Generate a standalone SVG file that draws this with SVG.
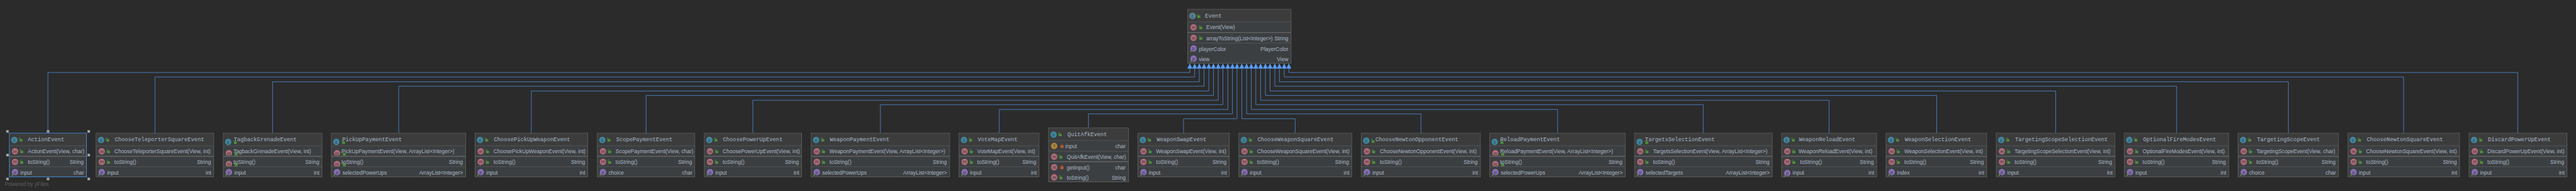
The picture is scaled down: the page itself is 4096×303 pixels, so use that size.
<svg xmlns="http://www.w3.org/2000/svg" width="4096" height="303" viewBox="0 0 4096 303">
<style>
text{font-family:"Liberation Sans",Arial,sans-serif}
.b{fill:#3C3F41;stroke:#5F5F5F;stroke-width:1.6}
.sel{stroke:#4A8FDD}
.h{fill:#3C3C3C}
.s{stroke:#595B5D;stroke-width:1.3;fill:none}
.k{stroke:#636566;stroke-width:2.4;fill:none}
.t{font-family:"Liberation Mono","Courier New",monospace;font-size:15px;fill:#A9B7C6}
.r{font-size:14.5px;fill:#A9B7C6}
.e{text-anchor:end}
.i{font-size:12.5px;text-anchor:middle;fill:#33393D}
.c{fill:none;stroke:#589DF6;stroke-width:1.2}
.hd{fill:#A8A8A8;stroke:#6A6A6A;stroke-width:.6}
.y{font-size:14.6px;fill:#5E5E5E}
</style>
<defs>
<marker id="tri" markerUnits="userSpaceOnUse" viewBox="0 0 14 14" markerWidth="14" markerHeight="14" refX="0" refY="7" orient="auto"><path d="M0 7L13.6 0V14Z" fill="#589DF6"/></marker>
<clipPath id="cc"><rect x="-9" y="-9" width="18" height="15"/></clipPath>
<g id="lk"><rect x="2.5" y="3.7" width="8" height="6.5" fill="#4F8F3C"/><path d="M1.2 4.5V2.6a2.4 2.4 0 0 1 4.8 0V4" fill="none" stroke="#4F8F3C" stroke-width="1.2"/></g>
<g id="lr"><rect x="1.5" y="3.7" width="8" height="6.5" fill="#C75B2A"/><path d="M3 4.5V2.6a2.4 2.4 0 0 1 4.8 0V4.5" fill="none" stroke="#C75B2A" stroke-width="1.2"/></g>
<g id="c"><circle r="8.7" fill="#40859E"/><text class="i" y="4.2">c</text></g>
<g id="ca"><circle r="8.7" fill="#7F7F7F"/><ellipse rx="5.4" ry="8.7" fill="#40859E"/><text class="i" y="4.2">c</text></g>
<g id="m"><circle r="8.7" fill="#B16B77"/><text class="i" y="4.2">m</text></g>
<g id="mc" clip-path="url(#cc)"><circle r="8.7" fill="#B16B77"/><text class="i" y="4.2">m</text></g>
<g id="p"><circle r="8.7" fill="#876FB3"/><text class="i" y="4.2">p</text><circle cx="-7.6" cy="8" r="1.8" fill="#5CA63C"/></g>
<g id="f"><circle r="8.7" fill="#AF8438"/><text class="i" y="4.2">f</text></g>
<g id="tt"><use href="#c" x="13.5" y="18.7"/><use href="#lk" x="25" y="12.5"/></g>
<g id="tts"><use href="#c" x="13.5" y="23.7"/><use href="#lk" x="26.5" y="19"/></g>
<g id="tto"><use href="#c" x="13.5" y="20.4"/><use href="#lk" x="25.5" y="16"/></g>
<g id="rows"><use href="#m" x="15.3" y="49.3"/><use href="#lk" x="27" y="44"/><use href="#m" x="15.3" y="78"/><use href="#lk" x="27" y="72.7"/><use href="#p" x="15.3" y="105.7"/></g>
<g id="rowss"><use href="#mc" x="15.3" y="54.4"/><use href="#lk" x="28.5" y="50.5"/><use href="#mc" x="15.3" y="83.7"/><use href="#lk" x="28.5" y="79.5"/><use href="#p" x="15.3" y="105.7"/></g>
</defs>
<rect width="4096" height="303" fill="#2B2B2B"/>
<g transform="scale(.58615)">
<g id="selection-handles">
<rect class="hd" x="17" y="352.3" width="6.8" height="6.8"/><rect class="hd" x="127" y="352.3" width="6.8" height="6.8"/><rect class="hd" x="237.3" y="352.3" width="6.8" height="6.8"/>
<rect class="hd" x="17" y="416.3" width="6.8" height="6.8"/><rect class="hd" x="237.3" y="416.3" width="6.8" height="6.8"/>
<rect class="hd" x="17" y="481" width="6.8" height="6.8"/><rect class="hd" x="127" y="481" width="6.8" height="6.8"/><rect class="hd" x="237.3" y="481" width="6.8" height="6.8"/>
</g>
<text class="y" x="12.8" y="502.7">Powered by yFiles</text>
<g id="connectors">
<path class="c" marker-start="url(#tri)" d="M3227.7 172V196.3H130V360"/>
<path class="c" marker-start="url(#tri)" d="M3240.7 172V208.3H420.4V360"/>
<path class="c" marker-start="url(#tri)" d="M3253.3 172V221.3H739.3V360"/>
<path class="c" marker-start="url(#tri)" d="M3266.3 172V233.3H1081.6V360"/>
<path class="c" marker-start="url(#tri)" d="M3279.3 172V246.3H1441.3V360"/>
<path class="c" marker-start="url(#tri)" d="M3291.7 172V258.3H1752.6V360"/>
<path class="c" marker-start="url(#tri)" d="M3304.7 172V271.3H2042.3V360"/>
<path class="c" marker-start="url(#tri)" d="M3317.3 172V283.3H2388.3V360"/>
<path class="c" marker-start="url(#tri)" d="M3330.7 172V296.3H2710.7V360"/>
<path class="c" marker-start="url(#tri)" d="M3343.3 172V308.3H2952.6V346"/>
<path class="c" marker-start="url(#tri)" d="M3355.7 172V321.3H3210.7V360"/>
<path class="c" marker-start="url(#tri)" d="M3368.7 172V321.3H3513.3V360"/>
<path class="c" marker-start="url(#tri)" d="M3381.7 172V308.3H3854.6V360"/>
<path class="c" marker-start="url(#tri)" d="M3394.3 172V296.3H4225.5V360"/>
<path class="c" marker-start="url(#tri)" d="M3406.7 172V283.3H4620.4V360"/>
<path class="c" marker-start="url(#tri)" d="M3419.7 172V271.3H4961.7V360"/>
<path class="c" marker-start="url(#tri)" d="M3432.7 172V258.3H5253.6V360"/>
<path class="c" marker-start="url(#tri)" d="M3445.3 172V246.3H5576.5V360"/>
<path class="c" marker-start="url(#tri)" d="M3458.3 172V233.3H5904.6V360"/>
<path class="c" marker-start="url(#tri)" d="M3470.7 172V221.3H6207.7V360"/>
<path class="c" marker-start="url(#tri)" d="M3483.7 172V208.3H6520.3V360"/>
<path class="c" marker-start="url(#tri)" d="M3496.3 172V196.3H6830V360"/>
</g>
<g id="Event" transform="translate(3222,25.3)"><rect class="b" width="280.3" height="145.7"/><rect class="h" x="1" y="1" width="278.3" height="33"/><path class="s" d="M0 34H280.3M0 91.4H280.3"/><path class="k" d="M0 62.7H280.3"/>
<use href="#ca" x="13" y="18"/><use href="#lk" x="23.5" y="13"/><text class="t" x="47" y="22">Event</text>
<use href="#m" x="15.7" y="48.7"/><use href="#lk" x="29" y="43.5"/><text class="r" x="50.3" y="54">Event(View)</text>
<use href="#m" x="15.7" y="77.4"/><use href="#lk" x="29" y="72"/><text class="r" x="50.3" y="83.7">arrayToString(List&lt;Integer&gt;)</text><text class="r e" x="273" y="83.7">String</text>
<use href="#p" x="15.7" y="105.7"/><text class="r" x="30" y="112.4">playerColor</text><text class="r e" x="273" y="112.4">PlayerColor</text>
<use href="#p" x="15.7" y="133.7"/><text class="r" x="30" y="139.7">view</text><text class="r e" x="273" y="139.7">View</text></g>
<g id="ActionEvent" transform="translate(25.5,360.3)"><rect class="b sel" width="209.2" height="118.4"/><rect class="h" x="1" y="1" width="207.2" height="33"/><path class="s" d="M1 34H208M1 91H208"/><path class="k" d="M1 62.7H208"/><use href="#tt"/><use href="#rows"/>
<text class="t" x="50" y="22.4">ActionEvent</text><text class="r" x="50" y="54.7">ActionEvent(View, char)</text><text class="r" x="50" y="84">toString()</text><text class="r e" x="201.5" y="84">String</text><text class="r" x="29.6" y="113">input</text><text class="r e" x="202.5" y="113">char</text></g>
<g id="ChooseTeleporterSquareEvent" transform="translate(260.7,360.3)"><rect class="b" width="318.9" height="118.4"/><rect class="h" x="1" y="1" width="316.9" height="33"/><path class="s" d="M0 34H318.9M0 91H318.9"/><path class="k" d="M0 62.7H318.9"/><use href="#tt"/><use href="#rows"/>
<text class="t" x="50.5" y="22.4">ChooseTeleporterSquareEvent</text><text class="r" x="49.5" y="54.7">ChooseTeleporterSquareEvent(View, int)</text><text class="r" x="49.5" y="84">toString()</text><text class="r e" x="311.5" y="84">String</text><text class="r" x="29.6" y="113">input</text><text class="r e" x="312.5" y="113">int</text></g>
<g id="TagbackGrenadeEvent" transform="translate(605.6,360.3)"><rect class="b" width="267.9" height="118.4"/><rect class="h" x="1" y="1" width="265.9" height="33"/><path class="s" d="M0 34H267.9M0 91H267.9"/><path class="k" d="M0 62.7H267.9"/><use href="#tts"/><use href="#rowss"/>
<text class="t" x="28.6" y="22.4">TagbackGrenadeEvent</text><text class="r" x="27.6" y="54.7">TagbackGrenadeEvent(View, int)</text><text class="r" x="27.6" y="84">toString()</text><text class="r e" x="260.5" y="84">String</text><text class="r" x="30" y="113">input</text><text class="r e" x="261" y="113">int</text></g>
<g id="PickUpPaymentEvent" transform="translate(899,360.3)"><rect class="b" width="364" height="118.4"/><rect class="h" x="1" y="1" width="362" height="33"/><path class="s" d="M0 34H364M0 91H364"/><path class="k" d="M0 62.7H364"/><use href="#tts"/><use href="#rowss"/>
<text class="t" x="29.5" y="22.4">PickUpPaymentEvent</text><text class="r" x="27.5" y="54.7">PickUpPaymentEvent(View, ArrayList&lt;Integer&gt;)</text><text class="r" x="27.5" y="84">toString()</text><text class="r e" x="356.5" y="84">String</text><text class="r" x="30" y="113">selectedPowerUps</text><text class="r e" x="357" y="113">ArrayList&lt;Integer&gt;</text></g>
<g id="ChoosePickUpWeaponEvent" transform="translate(1288.8,360.3)"><rect class="b" width="305.6" height="118.4"/><rect class="h" x="1" y="1" width="303.6" height="33"/><path class="s" d="M0 34H305.6M0 91H305.6"/><path class="k" d="M0 62.7H305.6"/><use href="#tt"/><use href="#rows"/>
<text class="t" x="51" y="22.4">ChoosePickUpWeaponEvent</text><text class="r" x="50" y="54.7">ChoosePickUpWeaponEvent(View, int)</text><text class="r" x="50" y="84">toString()</text><text class="r e" x="298" y="84">String</text><text class="r" x="30" y="113">input</text><text class="r e" x="299" y="113">int</text></g>
<g id="ScopePaymentEvent" transform="translate(1620.4,360.3)"><rect class="b" width="264.3" height="118.4"/><rect class="h" x="1" y="1" width="262.3" height="33"/><path class="s" d="M0 34H264.3M0 91H264.3"/><path class="k" d="M0 62.7H264.3"/><use href="#tt"/><use href="#rows"/>
<text class="t" x="51" y="22.4">ScopePaymentEvent</text><text class="r" x="49.5" y="54.7">ScopePaymentEvent(View, char)</text><text class="r" x="49.5" y="84">toString()</text><text class="r e" x="257" y="84">String</text><text class="r" x="30" y="113">choice</text><text class="r e" x="258" y="113">char</text></g>
<g id="ChoosePowerUpEvent" transform="translate(1910.7,360.3)"><rect class="b" width="263.8" height="118.4"/><rect class="h" x="1" y="1" width="261.8" height="33"/><path class="s" d="M0 34H263.8M0 91H263.8"/><path class="k" d="M0 62.7H263.8"/><use href="#tt"/><use href="#rows"/>
<text class="t" x="50.5" y="22.4">ChoosePowerUpEvent</text><text class="r" x="49.5" y="54.7">ChoosePowerUpEvent(View, int)</text><text class="r" x="49.5" y="84">toString()</text><text class="r e" x="256.5" y="84">String</text><text class="r" x="29.6" y="113">input</text><text class="r e" x="257.5" y="113">int</text></g>
<g id="WeaponPaymentEvent" transform="translate(2200.5,360.3)"><rect class="b" width="375.5" height="118.4"/><rect class="h" x="1" y="1" width="373.5" height="33"/><path class="s" d="M0 34H375.5M0 91H375.5"/><path class="k" d="M0 62.7H375.5"/><use href="#tt"/><use href="#rows"/>
<text class="t" x="50.5" y="22.4">WeaponPaymentEvent</text><text class="r" x="49.5" y="54.7">WeaponPaymentEvent(View, ArrayList&lt;Integer&gt;)</text><text class="r" x="49.5" y="84">toString()</text><text class="r e" x="368" y="84">String</text><text class="r" x="29.6" y="113">selectedPowerUps</text><text class="r e" x="368.5" y="113">ArrayList&lt;Integer&gt;</text></g>
<g id="VoteMapEvent" transform="translate(2601.5,360.3)"><rect class="b" width="216.9" height="118.4"/><rect class="h" x="1" y="1" width="214.9" height="33"/><path class="s" d="M0 34H216.9M0 91H216.9"/><path class="k" d="M0 62.7H216.9"/><use href="#tt"/><use href="#rows"/>
<text class="t" x="51" y="22.4">VoteMapEvent</text><text class="r" x="49.5" y="54.7">VoteMapEvent(View, int)</text><text class="r" x="49.5" y="84">toString()</text><text class="r e" x="209.5" y="84">String</text><text class="r" x="29.6" y="113">input</text><text class="r e" x="210.5" y="113">int</text></g>
<g id="QuitAfkEvent" transform="translate(2844.4,346.3)"><rect class="b" width="216.8" height="146"/><rect class="h" x="1" y="1" width="214.8" height="33"/><path class="s" d="M0 34H216.8M0 63H216.8"/><path class="k" d="M0 91.4H216.8"/>
<use href="#c" x="13.8" y="18"/><use href="#lk" x="25" y="12"/><text class="t" x="51" y="22">QuitAfkEvent</text>
<use href="#f" x="15.3" y="48.7"/><use href="#lr" x="31" y="43.7"/><text class="r" x="45.4" y="54.7">input</text><text class="r e" x="209.2" y="54.7">char</text>
<use href="#m" x="15.3" y="77.7"/><use href="#lk" x="27" y="72.5"/><text class="r" x="49.5" y="83.7">QuitAfkEvent(View, char)</text>
<use href="#m" x="15.3" y="106.4"/><use href="#lr" x="31" y="101"/><text class="r" x="49.5" y="112.7">getInput()</text><text class="r e" x="209.2" y="112.7">char</text>
<use href="#m" x="15.3" y="133.7"/><use href="#lk" x="27" y="128.5"/><text class="r" x="49.5" y="139.7">toString()</text><text class="r e" x="209.2" y="139.7">String</text></g>
<g id="WeaponSwapEvent" transform="translate(3086.7,360.3)"><rect class="b" width="248" height="118.4"/><rect class="h" x="1" y="1" width="246" height="33"/><path class="s" d="M0 34H248M0 91H248"/><path class="k" d="M0 62.7H248"/><use href="#tt"/><use href="#rows"/>
<text class="t" x="51" y="22.4">WeaponSwapEvent</text><text class="r" x="49.5" y="54.7">WeaponSwapEvent(View, int)</text><text class="r" x="49.5" y="84">toString()</text><text class="r e" x="240.5" y="84">String</text><text class="r" x="29.6" y="113">input</text><text class="r e" x="241.5" y="113">int</text></g>
<g id="ChooseWeaponSquareEvent" transform="translate(3360.7,360.3)"><rect class="b" width="306.1" height="118.4"/><rect class="h" x="1" y="1" width="304.1" height="33"/><path class="s" d="M0 34H306.1M0 91H306.1"/><path class="k" d="M0 62.7H306.1"/><use href="#tt"/><use href="#rows"/>
<text class="t" x="50.5" y="22.4">ChooseWeaponSquareEvent</text><text class="r" x="49.5" y="54.7">ChooseWeaponSquareEvent(View, int)</text><text class="r" x="49.5" y="84">toString()</text><text class="r e" x="298.7" y="84">String</text><text class="r" x="29.6" y="113">input</text><text class="r e" x="299.7" y="113">int</text></g>
<g id="ChooseNewtonOpponentEvent" transform="translate(3692.9,360.3)"><rect class="b" width="322.9" height="118.4"/><rect class="h" x="1" y="1" width="320.9" height="33"/><path class="s" d="M0 34H322.9M0 91H322.9"/><path class="k" d="M0 62.7H322.9"/><use href="#tto"/><use href="#rows"/>
<text class="t" x="38.3" y="22.4">ChooseNewtonOpponentEvent</text><text class="r" x="50" y="54.7">ChooseNewtonOpponentEvent(View, int)</text><text class="r" x="50" y="84">toString()</text><text class="r e" x="315.5" y="84">String</text><text class="r" x="30" y="113">input</text><text class="r e" x="316.5" y="113">int</text></g>
<g id="ReloadPaymentEvent" transform="translate(4041.3,360.3)"><rect class="b" width="367.4" height="118.4"/><rect class="h" x="1" y="1" width="365.4" height="33"/><path class="s" d="M0 34H367.4M0 91H367.4"/><path class="k" d="M0 62.7H367.4"/><use href="#tts"/><use href="#rowss"/>
<text class="t" x="28.6" y="22.4">ReloadPaymentEvent</text><text class="r" x="28" y="54.7">ReloadPaymentEvent(View, ArrayList&lt;Integer&gt;)</text><text class="r" x="28" y="84">toString()</text><text class="r e" x="360" y="84">String</text><text class="r" x="29.6" y="113">selectedPowerUps</text><text class="r e" x="360.5" y="113">ArrayList&lt;Integer&gt;</text></g>
<g id="TargetsSelectionEvent" transform="translate(4434.2,360.3)"><rect class="b" width="373.5" height="118.4"/><rect class="h" x="1" y="1" width="371.5" height="33"/><path class="s" d="M0 34H373.5M0 91H373.5"/><path class="k" d="M0 62.7H373.5"/><use href="#tts"/><use href="#rows"/>
<text class="t" x="28.6" y="22.4">TargetsSelectionEvent</text><text class="r" x="50" y="54.7">TargetsSelectionEvent(View, ArrayList&lt;Integer&gt;)</text><text class="r" x="50" y="84">toString()</text><text class="r e" x="366" y="84">String</text><text class="r" x="29.6" y="113">selectedTargets</text><text class="r e" x="366.5" y="113">ArrayList&lt;Integer&gt;</text></g>
<g id="WeaponReloadEvent" transform="translate(4833.2,360.3)"><rect class="b" width="257.6" height="118.4"/><rect class="h" x="1" y="1" width="255.6" height="33"/><path class="s" d="M0 34H257.6M0 91H257.6"/><path class="k" d="M0 62.7H257.6"/><use href="#tt"/><use href="#m" x="15.3" y="49.3"/><use href="#lk" x="26.5" y="44"/><use href="#m" x="15.3" y="78"/><use href="#lk" x="26.5" y="72.7"/><use href="#p" x="15.3" y="108"/>
<text class="t" x="47" y="22.4">WeaponReloadEvent</text><text class="r" x="46" y="54.7">WeaponReloadEvent(View, int)</text><text class="r" x="50" y="84">toString()</text><text class="r e" x="250" y="84">String</text><text class="r" x="29.6" y="113">input</text><text class="r e" x="251" y="113">int</text></g>
<g id="WeaponSelectionEvent" transform="translate(5116.3,360.3)"><rect class="b" width="273" height="118.4"/><rect class="h" x="1" y="1" width="271" height="33"/><path class="s" d="M0 34H273M0 91H273"/><path class="k" d="M0 62.7H273"/><use href="#tt"/><use href="#rows"/>
<text class="t" x="51" y="22.4">WeaponSelectionEvent</text><text class="r" x="49.5" y="54.7">WeaponSelectionEvent(View, int)</text><text class="r" x="49.5" y="84">toString()</text><text class="r e" x="265.5" y="84">String</text><text class="r" x="29.6" y="113">index</text><text class="r e" x="266.5" y="113">int</text></g>
<g id="TargetingScopeSelectionEvent" transform="translate(5415.3,360.3)"><rect class="b" width="321.9" height="118.4"/><rect class="h" x="1" y="1" width="319.9" height="33"/><path class="s" d="M0 34H321.9M0 91H321.9"/><path class="k" d="M0 62.7H321.9"/><use href="#tt"/><use href="#rows"/>
<text class="t" x="51" y="22.4">TargetingScopeSelectionEvent</text><text class="r" x="49.5" y="54.7">TargetingScopeSelectionEvent(View, int)</text><text class="r" x="49.5" y="84">toString()</text><text class="r e" x="314.5" y="84">String</text><text class="r" x="29.6" y="113">input</text><text class="r e" x="315.5" y="113">int</text></g>
<g id="OptionalFireModesEvent" transform="translate(5762.8,360.3)"><rect class="b" width="283.1" height="118.4"/><rect class="h" x="1" y="1" width="281.1" height="33"/><path class="s" d="M0 34H283.1M0 91H283.1"/><path class="k" d="M0 62.7H283.1"/><use href="#tt"/><use href="#rows"/>
<text class="t" x="51" y="22.4">OptionalFireModesEvent</text><text class="r" x="49.5" y="54.7">OptionalFireModesEvent(View, int)</text><text class="r" x="49.5" y="84">toString()</text><text class="r e" x="275.5" y="84">String</text><text class="r" x="29.6" y="113">input</text><text class="r e" x="276.5" y="113">int</text></g>
<g id="TargetingScopeEvent" transform="translate(6071.4,360.3)"><rect class="b" width="272" height="118.4"/><rect class="h" x="1" y="1" width="270" height="33"/><path class="s" d="M0 34H272M0 91H272"/><path class="k" d="M0 62.7H272"/><use href="#tt"/><use href="#rows"/>
<text class="t" x="51" y="22.4">TargetingScopeEvent</text><text class="r" x="49.5" y="54.7">TargetingScopeEvent(View, char)</text><text class="r" x="49.5" y="84">toString()</text><text class="r e" x="264.5" y="84">String</text><text class="r" x="29.6" y="113">choice</text><text class="r e" x="265.5" y="113">char</text></g>
<g id="ChooseNewtonSquareEvent" transform="translate(6369.3,360.3)"><rect class="b" width="302.8" height="118.4"/><rect class="h" x="1" y="1" width="300.8" height="33"/><path class="s" d="M0 34H302.8M0 91H302.8"/><path class="k" d="M0 62.7H302.8"/><use href="#tt"/><use href="#rows"/>
<text class="t" x="51" y="22.4">ChooseNewtonSquareEvent</text><text class="r" x="49.5" y="54.7">ChooseNewtonSquareEvent(View, int)</text><text class="r" x="49.5" y="84">toString()</text><text class="r e" x="295.5" y="84">String</text><text class="r" x="29.6" y="113">input</text><text class="r e" x="296.5" y="113">int</text></g>
<g id="DiscardPowerUpEvent" transform="translate(6698,360.3)"><rect class="b" width="265.4" height="118.4"/><rect class="h" x="1" y="1" width="263.4" height="33"/><path class="s" d="M0 34H265.4M0 91H265.4"/><path class="k" d="M0 62.7H265.4"/><use href="#tt"/><use href="#rows"/>
<text class="t" x="51" y="22.4">DiscardPowerUpEvent</text><text class="r" x="49.5" y="54.7">DiscardPowerUpEvent(View, int)</text><text class="r" x="49.5" y="84">toString()</text><text class="r e" x="258" y="84">String</text><text class="r" x="29.6" y="113">input</text><text class="r e" x="259" y="113">int</text></g>
</g>
</svg>
